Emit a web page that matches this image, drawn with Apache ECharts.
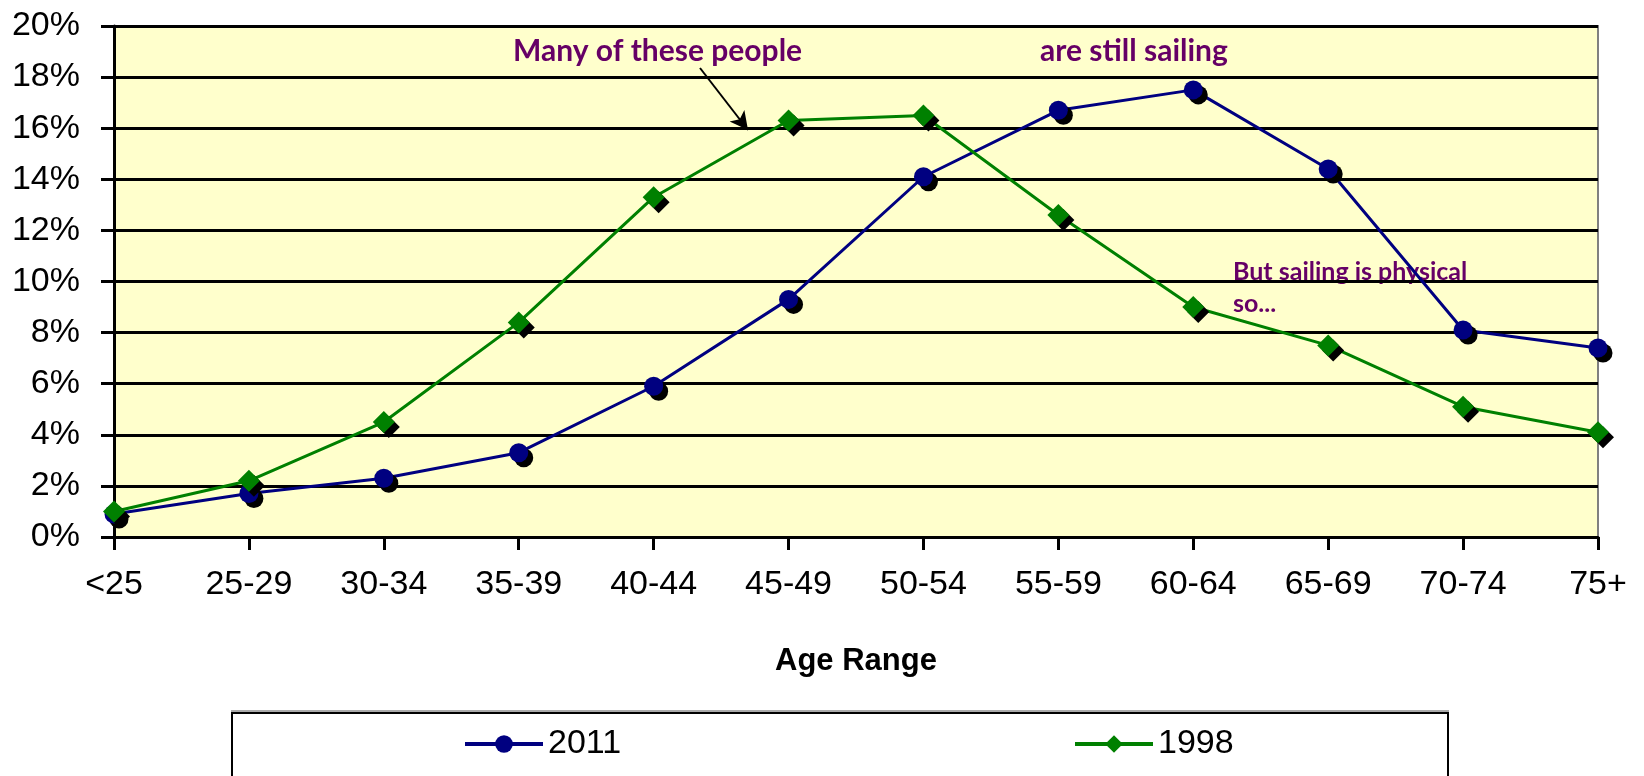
<!DOCTYPE html>
<html>
<head>
<meta charset="utf-8">
<script src="https://cdn.jsdelivr.net/npm/echarts@6/dist/echarts.min.js"></script>
<style>
  html, body { margin: 0; padding: 0; background: #fff; }
  #main { width: 1644px; height: 776px; }
</style>
</head>
<body>
<div id="main"></div>
<script>
// age ranges on the x axis
const ageRanges = ['<25', '25-29', '30-34', '35-39', '40-44', '45-49', '50-54', '55-59', '60-64', '65-69', '70-74', '75+'];
// share of sailors per age range (%)
const values2011 = [0.9, 1.7, 2.3, 3.3, 5.9, 9.3, 14.1, 16.7, 17.5, 14.4, 8.1, 7.4];
const values1998 = [1.0, 2.2, 4.5, 8.4, 13.3, 16.3, 16.5, 12.6, 9.0, 7.5, 5.1, 4.1];

const chart = echarts.init(document.getElementById('main'));

const axisFont = 'Liberation Sans, Arial, sans-serif';
const noteFont = 'Lato, Carlito, sans-serif';

// marker shadow, like the old excel 3d look
const markerShadow = {
  shadowColor: '#000',
  shadowBlur: 0,
  shadowOffsetX: 5,
  shadowOffsetY: 5
};

// both legends look the same, only the position differs
const legendBase = {
  top: 722,
  itemWidth: 78,
  itemHeight: 22,
  itemGap: 10,
  itemStyle: { shadowColor: 'transparent' },
  lineStyle: { width: 4 },
  textStyle: { fontFamily: axisFont, fontSize: 34, color: '#000' }
};

chart.setOption({
  backgroundColor: '#fff',
  animation: false,
  grid: {
    left: 114,
    right: 46,
    top: 26,
    bottom: 239,
    show: true,
    backgroundColor: '#FFFFCC',
    borderColor: '#808080',
    borderWidth: 2
  },
  xAxis: {
    type: 'category',
    data: ageRanges,
    boundaryGap: false,
    name: 'Age Range',
    nameLocation: 'middle',
    nameGap: 109,
    nameTextStyle: {
      fontFamily: axisFont,
      fontWeight: 'bold',
      fontSize: 31,
      color: '#000'
    },
    axisLine: { lineStyle: { color: '#000', width: 3 } },
    axisTick: { length: 13, lineStyle: { color: '#000', width: 3 } },
    axisLabel: {
      margin: 31,
      fontFamily: axisFont,
      fontSize: 34,
      color: '#000'
    },
    splitLine: { show: false }
  },
  yAxis: {
    type: 'value',
    min: 0,
    max: 20,
    interval: 2,
    axisLine: { show: true, lineStyle: { color: '#000', width: 3 } },
    axisTick: { show: true, length: 13, lineStyle: { color: '#000', width: 3 } },
    axisLabel: {
      margin: 34,
      formatter: '{value}%',
      fontFamily: axisFont,
      fontSize: 34,
      color: '#000'
    },
    splitLine: { lineStyle: { color: '#000', width: 3 } }
  },
  legend: [
    { ...legendBase, data: ['2011'], left: 458 },
    { ...legendBase, data: ['1998'], left: 1068 }
  ],
  series: [
    {
      name: '2011',
      type: 'line',
      data: values2011,
      symbol: 'circle',
      symbolSize: 19,
      lineStyle: { color: '#000080', width: 3 },
      itemStyle: { color: '#000080', ...markerShadow },
      z: 3
    },
    {
      name: '1998',
      type: 'line',
      data: values1998,
      symbol: 'diamond',
      symbolSize: [22, 22],
      lineStyle: { color: '#008000', width: 3 },
      itemStyle: { color: '#008000', ...markerShadow },
      z: 4,
      // arrow for the "Many of these people" note
      markLine: {
        silent: true,
        symbol: ['none', 'arrow'],
        symbolSize: [14, 18],
        label: { show: false },
        lineStyle: { color: '#000', width: 2, type: 'solid' },
        data: [[{ x: 700, y: 68 }, { x: 748, y: 130 }]]
      }
    }
  ],
  graphic: [
    // legend box
    {
      type: 'rect',
      shape: { x: 232, y: 713, width: 1216, height: 90 },
      style: { fill: '#fff', stroke: '#000', lineWidth: 2, shadowColor: '#aaa', shadowOffsetY: -2 },
      z: -1
    },
    {
      type: 'text',
      style: { x: 513, y: 51, text: 'Many of these people', fill: '#660066', font: 'bold 30px ' + noteFont, verticalAlign: 'middle' }
    },
    {
      type: 'text',
      style: { x: 1040, y: 51, text: 'are still sailing', fill: '#660066', font: 'bold 30px ' + noteFont, verticalAlign: 'middle' }
    },
    {
      type: 'text',
      style: { x: 1233, y: 256, text: 'But sailing is physical\nso...', fill: '#660066', font: 'bold 25px ' + noteFont, lineHeight: 32 }
    }
  ]
});
</script>
</body>
</html>
